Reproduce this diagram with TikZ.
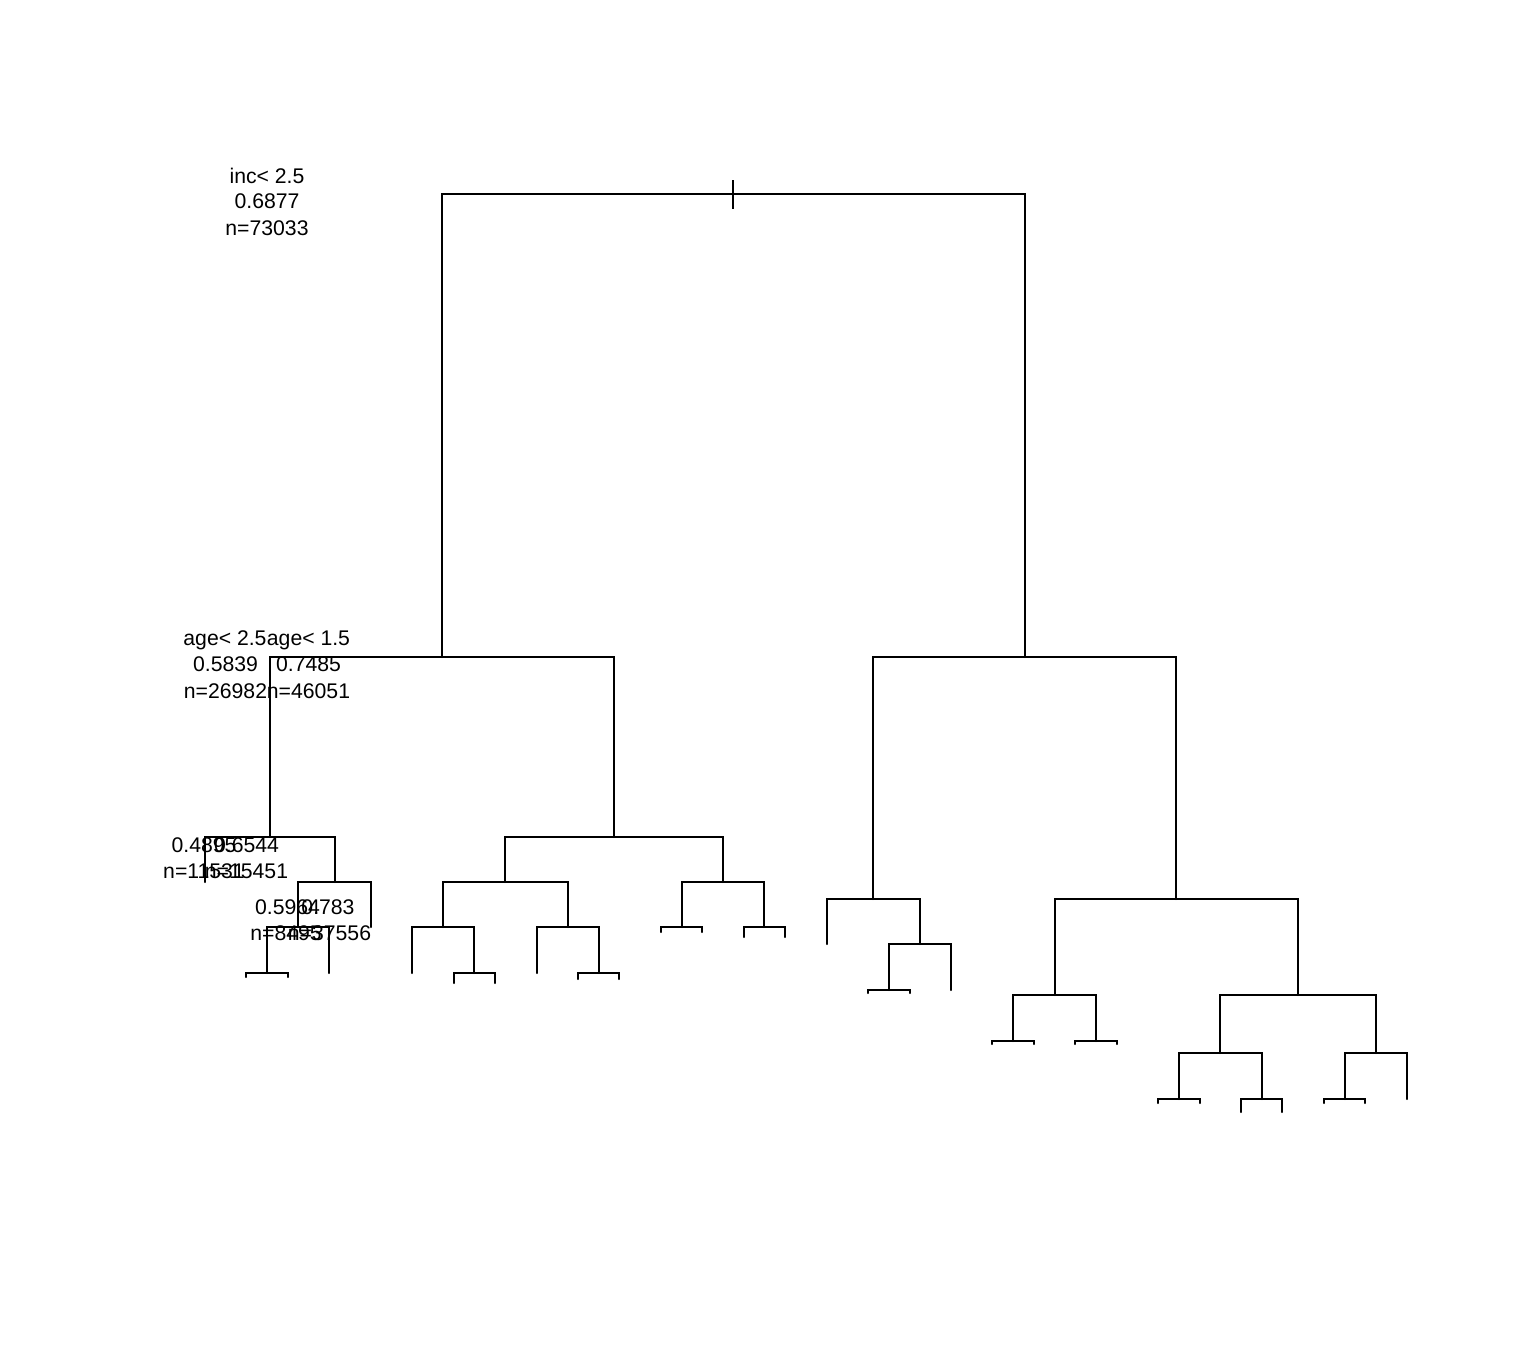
\documentclass[tikz,border=0pt]{standalone}
\usepackage{fontspec}
\setmainfont{Liberation Sans}
\begin{document}
\begin{tikzpicture}[x=1pt,y=-1pt,
  branch/.style={line width=2pt, line cap=round, line join=miter},
  lab/.style={anchor=base, inner sep=0pt, font=\fontsize{21.2}{25}\selectfont}]
\useasboundingbox (0,0) rectangle (1536,1344);
\fill[white] (0,0) rectangle (1536,1344);
% tree nodes
\coordinate (N0) at (733,194);
\coordinate (A) at (442,657);
\coordinate (B) at (1025,657);
\coordinate (Al) at (270,837);
\coordinate (Ar) at (614,837);
\coordinate (All) at (205,882);
\coordinate (Alr) at (335,882);
\coordinate (Alrl) at (298,927);
\coordinate (Alrr) at (371,927);
\coordinate (Alrll) at (267,973);
\coordinate (Alrlr) at (329,973);
\coordinate (Alrlll) at (246,977);
\coordinate (Alrllr) at (288,977);
\coordinate (Arl) at (505,882);
\coordinate (Arr) at (723,882);
\coordinate (Arll) at (443,927);
\coordinate (Arlr) at (568,927);
\coordinate (Arlll) at (412,973);
\coordinate (Arllr) at (474,973);
\coordinate (Arllrl) at (454,983);
\coordinate (Arllrr) at (495,983);
\coordinate (Arlrl) at (537,973);
\coordinate (Arlrr) at (599,973);
\coordinate (Arlrrl) at (578,979);
\coordinate (Arlrrr) at (619,979);
\coordinate (Arrl) at (682,927);
\coordinate (Arrr) at (764,927);
\coordinate (Arrll) at (661,932);
\coordinate (Arrlr) at (702,932);
\coordinate (Arrrl) at (744,937);
\coordinate (Arrrr) at (785,937);
\coordinate (Bl) at (873,899);
\coordinate (Br) at (1176,899);
\coordinate (Bll) at (827,944);
\coordinate (Blr) at (920,944);
\coordinate (Blrl) at (889,990);
\coordinate (Blrr) at (951,990);
\coordinate (Blrll) at (868,993);
\coordinate (Blrlr) at (910,993);
\coordinate (Brl) at (1055,995);
\coordinate (Brr) at (1298,995);
\coordinate (Brll) at (1013,1041);
\coordinate (Brlr) at (1096,1041);
\coordinate (Brlll) at (992,1044);
\coordinate (Brllr) at (1034,1044);
\coordinate (Brlrl) at (1075,1044);
\coordinate (Brlrr) at (1117,1044);
\coordinate (Brrl) at (1220,1053);
\coordinate (Brrr) at (1376,1053);
\coordinate (Brrll) at (1179,1099);
\coordinate (Brrlr) at (1262,1099);
\coordinate (Brrlll) at (1158,1103);
\coordinate (Brrllr) at (1200,1103);
\coordinate (Brrlrl) at (1241,1112);
\coordinate (Brrlrr) at (1282,1112);
\coordinate (Brrrl) at (1345,1099);
\coordinate (Brrrr) at (1407,1099);
\coordinate (Brrrll) at (1324,1103);
\coordinate (Brrrlr) at (1365,1103);
% branches
\foreach \p/\c in {N0/A, N0/B,
  A/Al, A/Ar, Al/All, Al/Alr, Alr/Alrl, Alr/Alrr, Alrl/Alrll, Alrl/Alrlr,
  Alrll/Alrlll, Alrll/Alrllr,
  Ar/Arl, Ar/Arr, Arl/Arll, Arl/Arlr, Arll/Arlll, Arll/Arllr,
  Arllr/Arllrl, Arllr/Arllrr, Arlr/Arlrl, Arlr/Arlrr, Arlrr/Arlrrl, Arlrr/Arlrrr,
  Arr/Arrl, Arr/Arrr, Arrl/Arrll, Arrl/Arrlr, Arrr/Arrrl, Arrr/Arrrr,
  B/Bl, B/Br, Bl/Bll, Bl/Blr, Blr/Blrl, Blr/Blrr, Blrl/Blrll, Blrl/Blrlr,
  Br/Brl, Br/Brr, Brl/Brll, Brl/Brlr, Brll/Brlll, Brll/Brllr, Brlr/Brlrl, Brlr/Brlrr,
  Brr/Brrl, Brr/Brrr, Brrl/Brrll, Brrl/Brrlr, Brrll/Brrlll, Brrll/Brrllr,
  Brrlr/Brrlrl, Brrlr/Brrlrr, Brrr/Brrrl, Brrr/Brrrr, Brrrl/Brrrll, Brrrl/Brrrlr}
  \draw[branch] (\p) -| (\c);
% root mark
\coordinate (tickT) at (733,180);
\coordinate (tickB) at (733,209);
\draw[line width=1.8pt] (tickT) -- (tickB);
% labels
\node[lab] (l0a) at (267,183) {inc< 2.5};
\node[lab] (l0b) at (267,208.5) {0.6877};
\node[lab] (l0c) at (267,235) {n=73033};
\node[lab] (lAa) at (225,645) {age< 2.5};
\node[lab] (lAb) at (225.5,671.5) {0.5839};
\node[lab] (lAc) at (225.5,698) {n=26982};
\node[lab] (lBa) at (308.5,645) {age< 1.5};
\node[lab] (lBb) at (308.5,671.5) {0.7485};
\node[lab] (lBc) at (308.5,698) {n=46051};
\node[lab] (lAlb) at (204,852.5) {0.4895};
\node[lab] (lAlc) at (204,878) {n=11531};
\node[lab] (lArb) at (246.5,852.5) {0.6544};
\node[lab] (lArc) at (246.5,878) {n=15451};
\node[lab] (lBlb) at (287.5,914) {0.5964};
\node[lab] (lBlc) at (286,940) {n=8495};
\node[lab] (lBrb) at (328,914) {0.783};
\node[lab] (lBrc) at (329.5,940) {n=37556};
\end{tikzpicture}
\end{document}
